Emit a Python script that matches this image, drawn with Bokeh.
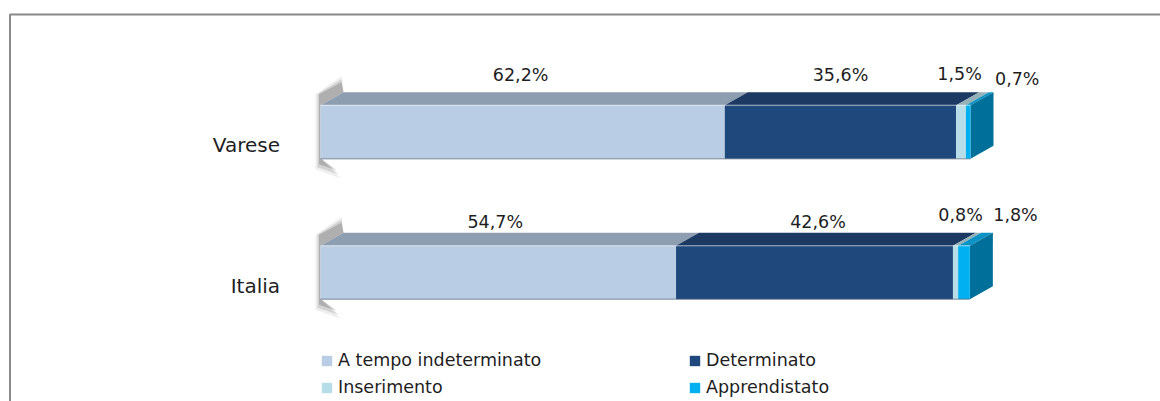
from bokeh.plotting import figure
from bokeh.models import Range1d, ColumnDataSource, Legend, LegendItem, BoxAnnotation
from bokeh.core.properties import value
from bokeh.embed import file_html
from bokeh.resources import INLINE

# ---------------- data ----------------
CATEGORIES = ["Varese", "Italia"]
SERIES = ["A tempo indeterminato", "Determinato", "Inserimento", "Apprendistato"]
A_TEMPO_INDETERMINATO = [62.2, 54.7]
DETERMINATO = [35.6, 42.6]
INSERIMENTO = [1.5, 0.8]
APPRENDISTATO = [0.7, 1.8]
VALUES = [A_TEMPO_INDETERMINATO, DETERMINATO, INSERIMENTO, APPRENDISTATO]

# ---------------- style ----------------
FRONT = ["#B9CDE5", "#1F497D", "#B7DEE8", "#00B0F0"]
TOP = ["#8E9EB1", "#1B3962", "#96B0B7", "#0A93C4"]
SIDE = "#00709A"
TEXT = "#1e1e1e"
FONT = "DejaVu Sans"

# label nudges in screen pixels (per series, per category)
LABEL_DX = [[-2, -3], [0, 3.5], [-1.5, 5], [49, 51.5]]
LABEL_DY = [[-30.5, -23.5], [-30.5, -24], [-31, -31], [-26.5, -31]]

W, H = 1160, 401
PX_X = 6.5        # pixels per percent
PX_Y = 140.5      # pixels per category step
X0 = 320          # canvas px of 0 %
Y_FIRST = 131.5   # canvas px of first category centre

ncat = len(CATEGORIES)
x_start = -X0 / PX_X
x_end = x_start + W / PX_X
y_end = (ncat - 1) + Y_FIRST / PX_Y
y_start = y_end - H / PX_Y

HALF = 0.19
DX = 23 / PX_X
DY = 13 / PX_Y

p = figure(width=W, height=H, x_range=Range1d(x_start, x_end),
           y_range=Range1d(y_start, y_end), output_backend="svg",
           toolbar_location=None, x_axis_location=None, y_axis_location=None,
           min_border=0, outline_line_color=None,
           background_fill_color="white", border_fill_color="white")
p.grid.visible = False

ys = [ncat - 1 - i for i in range(ncat)]

# chart border (top and left visible)
p.add_layout(BoxAnnotation(left=x_start + 9.5 / PX_X, right=x_end + 20,
                           top=y_end - 14 / PX_Y, bottom=y_start - 1,
                           fill_color=None, fill_alpha=0,
                           line_color="#8a8a8a", line_alpha=1.0, line_width=2))

# soft shadow behind the left end of each bar (layered to fake a blur)
def px_pt(c, dxp, dyp):
    return (0 + dxp / PX_X, ys[c] + HALF - dyp / PX_Y)

shadow_shapes = [
    ([(-5, -11), (21, -29), (23, -13), (0, 0), (0, 53), (20, 73), (-5, 64)], "#a0a0a0", 0.18),
    ([(-3, -11), (21, -26), (23, -13), (0, 0), (0, 53), (18, 69), (-3, 62)], "#808080", 0.25),
    ([(-1.5, -11), (21, -23), (23, -13), (0, 0), (0, 53), (16, 65), (-1.5, 59)], "#606060", 0.3),
]
for shape, col, alpha in shadow_shapes:
    sx, sy = [], []
    for c in range(ncat):
        pts = [px_pt(c, a, b) for a, b in shape]
        sx.append([q[0] for q in pts])
        sy.append([q[1] for q in pts])
    p.patches(sx, sy, fill_color=col, fill_alpha=alpha, line_color=None)

# cumulative extents
lefts, rights = [], []
cum = [0.0] * ncat
for vals in VALUES:
    lefts.append(cum[:])
    cum = [a + b for a, b in zip(cum, vals)]
    rights.append(cum[:])
totals = cum

# top faces
for s in range(len(SERIES)):
    tx, ty = [], []
    for c in range(ncat):
        l, r, yt = lefts[s][c], rights[s][c], ys[c] + HALF
        tx.append([l, r, r + DX, l + DX])
        ty.append([yt, yt, yt + DY, yt + DY])
    p.patches(tx, ty, fill_color=TOP[s], line_color=None)

# right end faces
ex, ey = [], []
for c in range(ncat):
    R = totals[c]
    ex.append([R, R + DX, R + DX, R])
    ey.append([ys[c] - HALF, ys[c] - HALF + DY, ys[c] + HALF + DY, ys[c] + HALF])
p.patches(ex, ey, fill_color=SIDE, line_color=None)

# front faces
items = {}
for s, name in enumerate(SERIES):
    src = ColumnDataSource(dict(left=lefts[s], right=rights[s],
                                bottom=[y - HALF for y in ys],
                                top=[y + HALF for y in ys]))
    r = p.quad(left="left", right="right", bottom="bottom", top="top",
               source=src, fill_color=FRONT[s], line_color=None)
    items[name] = LegendItem(label=name, renderers=[r])

# top highlight and bottom edge of front faces
p.segment(x0=[0] * ncat, x1=totals, y0=[y + HALF for y in ys], y1=[y + HALF for y in ys],
          line_color="white", line_alpha=0.35, line_width=1.5)
p.segment(x0=[0] * ncat, x1=totals, y0=[y - HALF for y in ys], y1=[y - HALF for y in ys],
          line_color="#5a6a7a", line_alpha=0.5, line_width=1.5)

# value labels
lx, ly, lt, ldx, ldy = [], [], [], [], []
for s in range(len(SERIES)):
    for c in range(ncat):
        v = VALUES[s][c]
        lx.append((lefts[s][c] + rights[s][c]) / 2)
        ly.append(ys[c] + HALF)
        lt.append(f"{v:.1f}%".replace(".", ","))
        ldx.append(LABEL_DX[s][c])
        ldy.append(LABEL_DY[s][c])
p.text(x="x", y="y", text="t", x_offset="dx", y_offset="dy",
       source=ColumnDataSource(dict(x=lx, y=ly, t=lt, dx=ldx, dy=ldy)),
       text_align="center", text_baseline="middle",
       text_font=value(FONT), text_font_size="17.5px", text_color=TEXT)

# category labels
p.text(x=[-40.5 / PX_X] * ncat, y=ys, text=CATEGORIES, y_offset=13,
       text_align="right", text_baseline="middle",
       text_font=value(FONT), text_font_size="20px", text_color=TEXT)

# legend: filled column by column (2 columns)
legend = Legend(items=[items[SERIES[0]], items[SERIES[2]], items[SERIES[1]], items[SERIES[3]]],
                location=(320, 4), orientation="vertical", ncols=2,
                glyph_width=13, glyph_height=13, label_standoff=5,
                label_height=20, label_width=343, spacing=7,
                padding=0, margin=0, border_line_color=None,
                background_fill_alpha=0,
                label_text_font=FONT, label_text_font_size="17.5px",
                label_text_color=TEXT)
p.add_layout(legend)

open("out.html", "w").write(file_html(p, INLINE))
